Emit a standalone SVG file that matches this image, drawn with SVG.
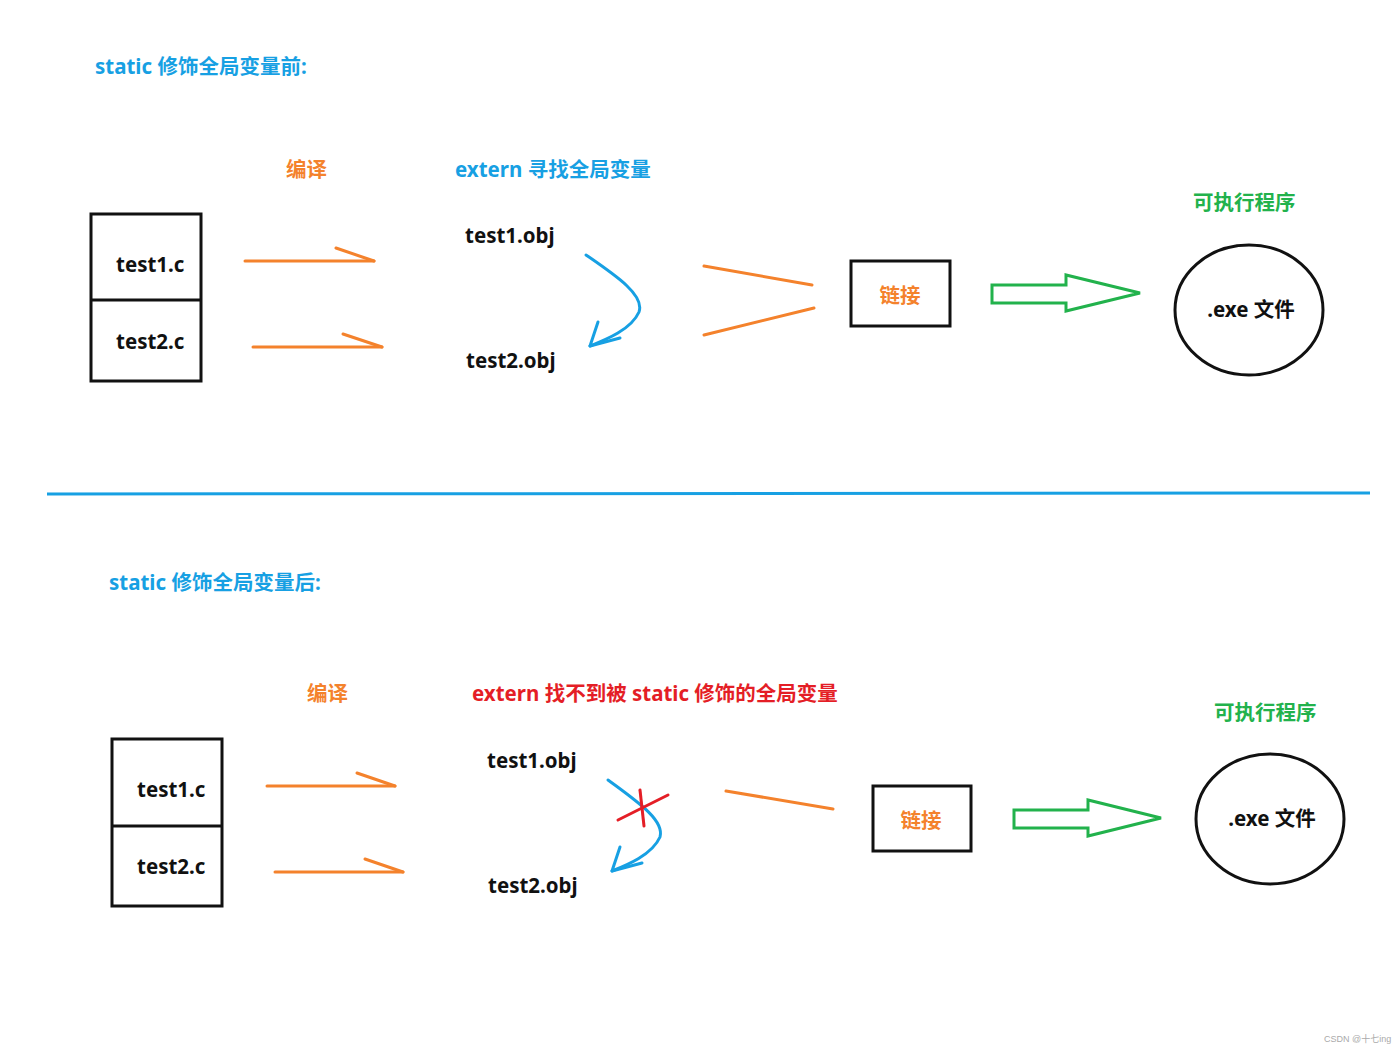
<svg xmlns="http://www.w3.org/2000/svg" width="1400" height="1049" viewBox="0 0 1400 1049">
<style>
.t{font-family:"Noto Sans","Noto Sans CJK SC",sans-serif;font-weight:bold;font-size:20.5px}
.blue{fill:#17a0e3}
.org{fill:#f4822c}
.grn{fill:#22b24c}
.red{fill:#e41e26}
.blk{fill:#111}
.box{fill:none;stroke:#111;stroke-width:3}
.ol{fill:none;stroke:#f4822c;stroke-width:3;stroke-linecap:round}
.bl{fill:none;stroke:#17a0e3;stroke-width:3;stroke-linecap:round;stroke-linejoin:round}
.gl{fill:none;stroke:#22b24c;stroke-width:3;stroke-linejoin:miter}
.rl{fill:none;stroke:#e41e26;stroke-width:3;stroke-linecap:round}
</style>
<rect width="1400" height="1049" fill="#fff"/>
<g id="top">
<text id="title1" class="t blue" x="95" y="74">static 修饰全局变量前:</text>
<text id="compile1" class="t org" x="286" y="177">编译</text>
<text id="extern1" class="t blue" x="455" y="177">extern 寻找全局变量</text>
<g id="src1"><rect class="box" x="91" y="214" width="110" height="167"/><line class="box" x1="91" y1="300" x2="201" y2="300"/>
<text class="t blk" x="116" y="272">test1.c</text><text class="t blk" x="116" y="349">test2.c</text></g>
<text id="obj1a" class="t blk" x="465" y="243">test1.obj</text>
<text id="obj1b" class="t blk" x="466" y="368">test2.obj</text>
<g id="link1"><rect class="box" x="851" y="261" width="99" height="65"/><text class="t org" x="900" y="303" text-anchor="middle">链接</text></g>
<text id="exe-label1" class="t grn" x="1193" y="210">可执行程序</text>
<g id="exe1"><ellipse class="box" cx="1249" cy="310" rx="74" ry="65"/><text class="t blk" x="1251" y="317" text-anchor="middle">.exe 文件</text></g>
</g>
<g id="bottom">
<text id="title2" class="t blue" x="109" y="590">static 修饰全局变量后:</text>
<text id="compile2" class="t org" x="307" y="701">编译</text>
<text id="extern2" class="t red" x="472" y="701">extern 找不到被 static 修饰的全局变量</text>
<g id="src2"><rect class="box" x="112" y="739" width="110" height="167"/><line class="box" x1="112" y1="826" x2="222" y2="826"/>
<text class="t blk" x="137" y="797">test1.c</text><text class="t blk" x="137" y="874">test2.c</text></g>
<text id="obj2a" class="t blk" x="487" y="768">test1.obj</text>
<text id="obj2b" class="t blk" x="488" y="893">test2.obj</text>
<g id="link2"><rect class="box" x="873" y="786" width="98" height="65"/><text class="t org" x="921" y="828" text-anchor="middle">链接</text></g>
<text id="exe-label2" class="t grn" x="1214" y="720">可执行程序</text>
<g id="exe2"><ellipse class="box" cx="1270" cy="819" rx="74" ry="65"/><text class="t blk" x="1272" y="826" text-anchor="middle">.exe 文件</text></g>
</g>
<g id="connectors">
<line class="ol" x1="245" y1="261" x2="374" y2="261"/><line class="ol" x1="336" y1="248" x2="374" y2="261"/>
<line class="ol" x1="253" y1="347" x2="382" y2="347"/><line class="ol" x1="343" y1="334" x2="382" y2="347"/>
<path class="bl" d="M586,255 C615,275 645,295 639,312 C631,330 605,340 590,346"/>
<path class="bl" d="M598,322 L590,346 L620,338"/>
<line class="ol" x1="704" y1="266" x2="812" y2="285"/>
<line class="ol" x1="704" y1="335" x2="814" y2="308"/>
<path class="gl" d="M992,285 L1066,285 L1066,275 L1140,293 L1066,311 L1066,303 L992,303 Z"/>
<line x1="47" y1="494" x2="1370" y2="493" stroke="#17a0e3" stroke-width="3"/>
<line class="ol" x1="267" y1="786" x2="395" y2="786"/><line class="ol" x1="357" y1="773" x2="395" y2="786"/>
<line class="ol" x1="275" y1="872" x2="403" y2="872"/><line class="ol" x1="365" y1="859" x2="403" y2="872"/>
<path class="bl" d="M608,780 C635,800 665,820 660,837 C652,855 627,865 612,871"/>
<path class="bl" d="M620,847 L612,871 L642,863"/>
<line class="rl" x1="618" y1="820" x2="668" y2="795"/>
<line class="rl" x1="640" y1="790" x2="644" y2="826"/>
<line class="ol" x1="726" y1="791" x2="833" y2="809"/>
<path class="gl" d="M1014,810 L1088,810 L1088,800 L1161,818 L1088,836 L1088,828 L1014,828 Z"/>
</g>
<text id="watermark" x="1324" y="1042" font-family="Liberation Sans,Noto Sans CJK SC,sans-serif" font-size="9" fill="#aaa">CSDN @十七ing</text>
</svg>
